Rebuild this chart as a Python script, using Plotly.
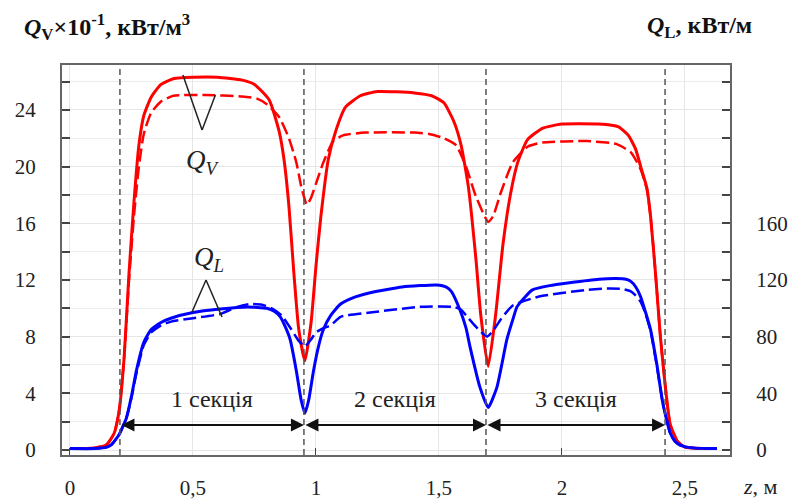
import plotly.graph_objects as go

# ---------------- data ----------------
z_qv_solid = [0, 0.10, 0.15, 0.18, 0.20, 0.22, 0.24, 0.26, 0.28, 0.30, 0.33, 0.37, 0.42, 0.50, 0.60, 0.70,
              0.75, 0.81, 0.85, 0.87, 0.89, 0.91, 0.93, 0.955, 0.98, 1.00, 1.02, 1.05, 1.08, 1.12, 1.18,
              1.25, 1.40, 1.47, 1.52, 1.56, 1.59, 1.62, 1.65, 1.67, 1.70, 1.73, 1.76, 1.79, 1.82, 1.86,
              1.92, 2.00, 2.15, 2.23, 2.27, 2.30, 2.32, 2.345, 2.36, 2.38, 2.40, 2.42, 2.44, 2.47, 2.50,
              2.60, 2.63]
qv_solid = [0.1, 0.15, 0.4, 1.2, 2.8, 6.5, 12.5, 17.5, 21.5, 23.6, 24.9, 25.8, 26.2, 26.3, 26.3, 26.1,
            25.8, 24.7, 22.5, 20.5, 17.2, 12.5, 8.5, 6.3, 9.0, 13.0, 16.5, 20.5, 22.5, 24.2, 25.0,
            25.3, 25.2, 25.0, 24.5, 23.2, 21.5, 18.5, 13.5, 9.5, 5.9, 9.5, 14.5, 18.0, 20.3, 21.9,
            22.7, 23.0, 23.0, 22.8, 22.2, 21.2, 20.0, 18.5, 16.5, 12.5, 8.0, 4.5, 1.8, 0.6, 0.2,
            0.1, 0.1]

z_qv_dash = [0, 0.10, 0.15, 0.18, 0.20, 0.22, 0.24, 0.26, 0.28, 0.30, 0.33, 0.37, 0.42, 0.55, 0.70, 0.76,
             0.80, 0.85, 0.89, 0.92, 0.94, 0.963, 0.98, 1.00, 1.03, 1.07, 1.11, 1.20, 1.40, 1.46, 1.52,
             1.57, 1.61, 1.65, 1.70, 1.72, 1.75, 1.80, 1.86, 1.92, 2.10, 2.22, 2.28, 2.32, 2.345, 2.36,
             2.38, 2.40, 2.42, 2.44, 2.47, 2.50, 2.60, 2.63]
qv_dash = [0.1, 0.15, 0.4, 1.2, 2.8, 6.5, 12.0, 16.5, 20.0, 22.3, 23.8, 24.6, 25.0, 25.05, 24.95, 24.8,
           24.4, 23.5, 22.0, 20.3, 18.6, 17.3, 17.8, 18.8, 20.3, 21.8, 22.2, 22.4, 22.4, 22.3, 22.0,
           21.5, 20.0, 17.9, 16.1, 16.5, 18.1, 20.3, 21.4, 21.7, 21.8, 21.6, 21.0, 19.8, 18.4, 16.5,
           12.5, 8.0, 4.5, 1.8, 0.6, 0.2, 0.1, 0.1]

z_ql_solid = [0, 0.10, 0.15, 0.17, 0.20, 0.23, 0.25, 0.27, 0.30, 0.33, 0.37, 0.41, 0.50, 0.61, 0.72, 0.80,
              0.83, 0.855, 0.875, 0.895, 0.92, 0.94, 0.955, 0.97, 0.99, 1.01, 1.03, 1.06, 1.10, 1.16,
              1.22, 1.35, 1.49, 1.53, 1.55, 1.585, 1.61, 1.626, 1.667, 1.70, 1.735, 1.776, 1.80, 1.817,
              1.85, 1.88, 1.95, 2.03, 2.15, 2.22, 2.26, 2.28, 2.30, 2.32, 2.34, 2.36, 2.385, 2.41, 2.44,
              2.46, 2.48, 2.53, 2.63]
ql_solid = [1, 1, 2, 4, 11, 23, 38, 56, 76, 85, 90, 93, 97, 99.5, 101, 100,
            98, 94, 87, 78, 56, 35, 26, 35, 56, 73, 85, 95, 103, 108,
            111, 115, 116.5, 115, 112, 99, 86, 73, 44, 30, 44, 78, 92, 101,
            108, 113, 116, 118, 120.5, 121, 120.5, 119, 115, 108, 97, 85, 61, 33, 12,
            6, 3.5, 1.5, 1]

z_ql_dash = [0, 0.10, 0.15, 0.17, 0.20, 0.23, 0.25, 0.27, 0.30, 0.33, 0.37, 0.42, 0.50, 0.61, 0.68, 0.73,
             0.78, 0.82, 0.86, 0.90, 0.93, 0.955, 0.98, 1.00, 1.03, 1.06, 1.10, 1.22, 1.42, 1.56, 1.59,
             1.61, 1.65, 1.695, 1.72, 1.75, 1.80, 1.90, 2.10, 2.195, 2.25, 2.28, 2.30, 2.32, 2.34, 2.36,
             2.385, 2.41, 2.44, 2.46, 2.48, 2.53, 2.63]
ql_dash = [1, 1, 2, 4, 11, 23, 37, 54, 74, 83, 88, 91, 93, 96, 101, 103,
           102.5, 100, 95, 85, 77, 73, 78, 83, 86, 88, 94, 97, 101, 101, 99,
           95, 87, 80, 84, 92, 102, 108, 113, 114, 113.5, 112, 109, 104.5, 96, 84,
           60, 33, 12, 6, 3.5, 1.5, 1]

section_bounds = [0.203, 0.951, 1.691, 2.419]
section_names = ["1 секція", "2 секція", "3 секція"]

x_tick_vals = [0, 0.5, 1, 1.5, 2, 2.5]
x_tick_text = ["0", "0,5", "1", "1,5", "2", "2,5"]
y_tick_vals = [0, 4, 8, 12, 16, 20, 24]
y_tick_text = ["0", "4", "8", "12", "16", "20", "24"]
y2_tick_vals = [0, 40, 80, 120, 160]
y2_tick_text = ["0", "40", "80", "120", "160"]

# ---------------- figure ----------------
RED = "#ff0000"
BLUE = "#0000ff"
FONT = "Liberation Serif"
W, H = 789, 500
ML, MR, MT, MB = 62, 59, 65, 45
PW, PH = W - ML - MR, H - MT - MB


def px_x(px):
    return (px - ML) / PW


def px_y(py):
    return (H - MB - py) / PH


SM = 0.5
DASH = "13px,5px"
fig = go.Figure()
fig.add_trace(go.Scatter(x=z_qv_solid, y=qv_solid, mode="lines", yaxis="y",
                         line=dict(color=RED, width=3, shape="spline", smoothing=SM)))
fig.add_trace(go.Scatter(x=z_qv_dash, y=qv_dash, mode="lines", yaxis="y",
                         line=dict(color=RED, width=2.5, dash=DASH, shape="spline", smoothing=SM)))
fig.add_trace(go.Scatter(x=z_ql_solid, y=ql_solid, mode="lines", yaxis="y2",
                         line=dict(color=BLUE, width=3, shape="spline", smoothing=SM)))
fig.add_trace(go.Scatter(x=z_ql_dash, y=ql_dash, mode="lines", yaxis="y2",
                         line=dict(color=BLUE, width=2.5, dash=DASH, shape="spline", smoothing=SM)))

shapes = []
for b in section_bounds:
    shapes.append(dict(type="line", xref="x", yref="paper", x0=b, x1=b, y0=0, y1=1,
                       line=dict(color="#555555", width=1.5, dash="6px,4px"), layer="above"))

# pointer lines for labels
ptr_qv = [(0.459, 26.46), (0.537, 22.58), (0.591, 25.05)]
ptr_ql = [(0.496, 9.74), (0.553, 12.0), (0.618, 9.39)]
for pts in (ptr_qv, ptr_ql):
    for (xa, ya), (xb, yb) in zip(pts[:-1], pts[1:]):
        shapes.append(dict(type="line", xref="x", yref="y", x0=xa, y0=ya, x1=xb, y1=yb,
                           line=dict(color="#222222", width=1.5), layer="above"))

annotations = []
arrow_y = 1.76
for i, name in enumerate(section_names):
    x0, x1 = section_bounds[i], section_bounds[i + 1]
    annotations.append(dict(x=x1, y=arrow_y, ax=x0, ay=arrow_y, xref="x", yref="y",
                            axref="x", ayref="y", text="", showarrow=True,
                            arrowside="end+start", arrowhead=2, arrowsize=1.3,
                            arrowwidth=2, arrowcolor="#111111"))
    annotations.append(dict(x=(x0 + x1) / 2, y=3.6, xref="x", yref="y", text=name,
                            showarrow=False, font=dict(family=FONT, size=24, color="#222222")))

annotations += [
    dict(x=0.540, y=20.3, xref="x", yref="y", showarrow=False,
         text="<i>Q</i><sub><i>V</i></sub>", font=dict(family=FONT, size=27, color="#222222")),
    dict(x=0.565, y=13.5, xref="x", yref="y", showarrow=False,
         text="<i>Q</i><sub><i>L</i></sub>", font=dict(family=FONT, size=27, color="#222222")),
    dict(x=px_x(22), y=px_y(27), xref="paper", yref="paper", xanchor="left", yanchor="middle",
         showarrow=False, text="<b><i>Q</i><sub>V</sub>×10<sup>-1</sup>, кВт/м<sup>3</sup></b>",
         font=dict(family=FONT, size=24, color="#111111")),
    dict(x=px_x(645), y=px_y(27), xref="paper", yref="paper", xanchor="left", yanchor="middle",
         showarrow=False, text="<b><i>Q</i><sub>L</sub>, кВт/м</b>",
         font=dict(family=FONT, size=24, color="#111111")),
    dict(x=px_x(741), y=px_y(486), xref="paper", yref="paper", xanchor="left", yanchor="middle",
         showarrow=False, text="<i>z</i>, м", font=dict(family=FONT, size=22, color="#222222")),
]

tickfont = dict(family=FONT, size=21, color="#222222")
fig.update_layout(
    width=W, height=H, autosize=False,
    margin=dict(l=ML, r=MR, t=MT, b=MB, autoexpand=False),
    paper_bgcolor="white", plot_bgcolor="white",
    showlegend=False,
    shapes=shapes, annotations=annotations,
    xaxis=dict(range=[-0.0325, 2.683], tickmode="array", tickvals=x_tick_vals, ticktext=x_tick_text,
               ticks="", showgrid=True, gridcolor="#e6e6e6", gridwidth=1, zeroline=False,
               showline=True, linecolor="#666666", linewidth=2, mirror=True, automargin=False,
               ticklabelstandoff=13, tickfont=tickfont,
               minor=dict(tickmode="linear", tick0=0, dtick=1, ticks="inside", ticklen=7,
                          tickcolor="#444444", showgrid=False)),
    yaxis=dict(range=[-0.353, 27.17], tickmode="array", tickvals=y_tick_vals, ticktext=y_tick_text,
               ticks="inside", ticklen=8, tickcolor="#444444", tickwidth=1.5,
               showgrid=True, gridcolor="#e6e6e6", gridwidth=1, zeroline=False,
               showline=True, linecolor="#666666", linewidth=2, mirror=True, automargin=False,
               ticklabelstandoff=20, tickfont=tickfont,
               minor=dict(tickmode="linear", tick0=0, dtick=2, ticks="inside", ticklen=8,
                          tickcolor="#444444", showgrid=True, gridcolor="#ececec")),
    yaxis2=dict(range=[-3.53, 271.7], overlaying="y", side="right", tickmode="array",
                tickvals=y2_tick_vals, ticktext=y2_tick_text,
                ticks="inside", ticklen=8, tickcolor="#444444", tickwidth=1.5,
                showgrid=False, zeroline=False, showline=True, linecolor="#666666", linewidth=2,
                automargin=False, ticklabelstandoff=20, tickfont=tickfont,
                minor=dict(tickmode="linear", tick0=0, dtick=20, ticks="inside", ticklen=8,
                           tickcolor="#444444", showgrid=False)),
)

fig.write_html("out.html", config={"displayModeBar": False},
               post_script="document.body.style.margin='0';document.body.style.overflow='hidden';")
